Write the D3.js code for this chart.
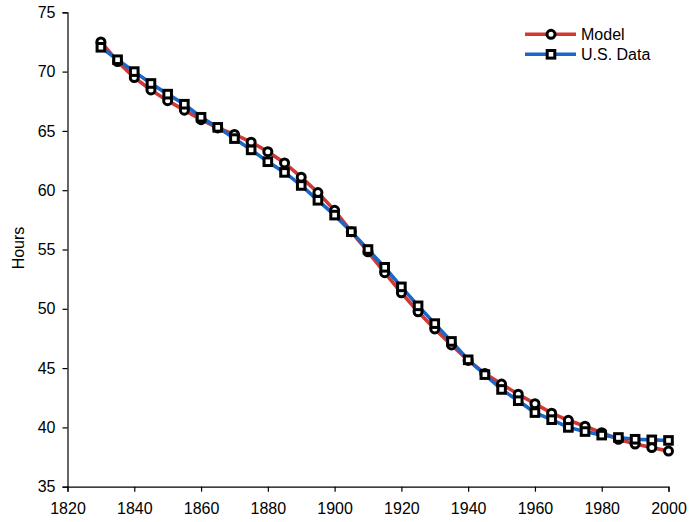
<!DOCTYPE html>
<html><head><meta charset="utf-8">
<script src="https://cdn.jsdelivr.net/npm/d3@7"></script>
<style>body{margin:0;background:#fff}svg{display:block;font-family:"Liberation Sans",Arial,sans-serif}</style>
</head><body><svg id="c" width="689" height="522"></svg>
<script>
const years = [1830,1835,1840,1845,1850,1855,1860,1865,1870,1875,1880,1885,1890,1895,1900,1905,1910,1915,1920,1925,1930,1935,1940,1945,1950,1955,1960,1965,1970,1975,1980,1985,1990,1995,2000];
const model = [72.5,70.85,69.5,68.45,67.55,66.75,65.95,65.25,64.7,64.05,63.25,62.3,61.1,59.8,58.3,56.5,54.8,53.05,51.35,49.75,48.3,46.95,45.65,44.55,43.65,42.8,42.0,41.2,40.6,40.1,39.55,39.0,38.6,38.3,38.0];
const usData = [72.05,71.0,70.0,69.0,68.1,67.25,66.15,65.3,64.35,63.4,62.4,61.5,60.4,59.15,57.9,56.5,55.0,53.5,51.85,50.25,48.75,47.25,45.7,44.45,43.2,42.25,41.25,40.65,40.0,39.65,39.35,39.15,39.0,38.95,38.9];
const xTicks = [1820,1840,1860,1880,1900,1920,1940,1960,1980,2000];
const yTicks = [35,40,45,50,55,60,65,70,75];
const seriesNames = ["Model","U.S. Data"];

const svg = d3.select("#c");
const x = d3.scaleLinear().domain([1820,2000]).range([67.5,668.5]);
const y = d3.scaleLinear().domain([35,75]).range([486.7,12.3]);

const xa = svg.append("g").attr("transform","translate(0,486.7)")
  .call(d3.axisBottom(x).tickValues(xTicks).tickFormat(d3.format("d")).tickSizeOuter(0).tickSize(5).tickPadding(4));
const ya = svg.append("g").attr("transform","translate(67.5,0)")
  .call(d3.axisLeft(y).tickValues(yTicks).tickSizeOuter(0).tickSize(5).tickPadding(7));
[xa,ya].forEach(a=>{a.selectAll("text").attr("font-size",16).attr("fill","#000").attr("font-family","Liberation Sans, Arial, sans-serif");
  a.selectAll("line,path").attr("stroke","#000").attr("stroke-width",1.2);});
xa.selectAll("text").attr("dy","1.15em");

svg.append("text").attr("transform","translate(24,248) rotate(-90)").attr("text-anchor","middle")
  .attr("font-size",16).text("Hours");

const line = d3.line().x((d,i)=>x(years[i])).y(d=>y(d));
const red="#cf3a36", blue="#1a66c9";
svg.append("path").datum(model).attr("d",line).attr("fill","none").attr("stroke",red).attr("stroke-width",3.6);
svg.append("path").datum(usData).attr("d",line).attr("fill","none").attr("stroke",blue).attr("stroke-width",3.6);

svg.append("g").selectAll("circle").data(model).join("circle")
  .attr("cx",(d,i)=>x(years[i])).attr("cy",d=>y(d)).attr("r",4)
  .attr("fill","#fff").attr("stroke","#000").attr("stroke-width",3);
svg.append("g").selectAll("rect").data(usData).join("rect")
  .attr("x",(d,i)=>x(years[i])-3.8).attr("y",d=>y(d)-3.8).attr("width",7.6).attr("height",7.6)
  .attr("fill","#fff").attr("stroke","#000").attr("stroke-width",3);

const lg = svg.append("g");
[[red,"c",34.3],[blue,"s",54.3]].forEach((s,k)=>{
  lg.append("line").attr("x1",525).attr("x2",576).attr("y1",s[2]).attr("y2",s[2]).attr("stroke",s[0]).attr("stroke-width",3.6);
  if(s[1]==="c") lg.append("circle").attr("cx",551).attr("cy",s[2]).attr("r",4).attr("fill","#fff").attr("stroke","#000").attr("stroke-width",3);
  else lg.append("rect").attr("x",551-3.8).attr("y",s[2]-3.8).attr("width",7.6).attr("height",7.6).attr("fill","#fff").attr("stroke","#000").attr("stroke-width",3);
  lg.append("text").attr("x",581).attr("y",s[2]).attr("dy","0.35em").attr("font-size",16).text(seriesNames[k]);
});
</script></body></html>
